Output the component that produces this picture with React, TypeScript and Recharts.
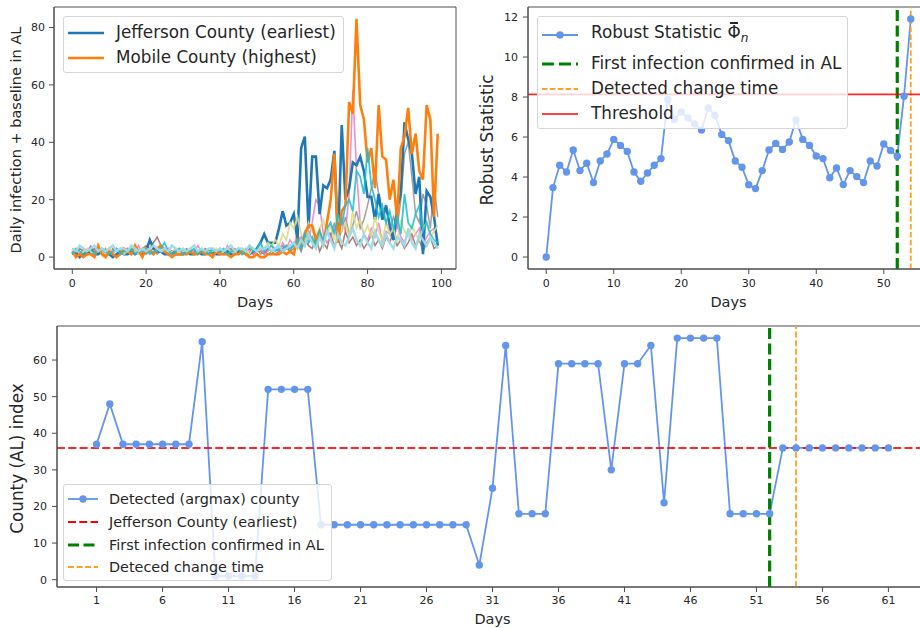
import React from 'react';
import { LineChart, Line, XAxis, YAxis, ReferenceLine, ReferenceArea, Label } from 'recharts';

const FONT = '"DejaVu Sans", "Liberation Sans", sans-serif';
const INK = '#262626';
const SPINE = '#4d4d4d';

// ---------------- Top-left: daily infections per county ----------------
const jeffersonDaily = [
  1, 2, 0, 1, 1, 3, 1, 1, 2, 1,
  1, 0, 1, 2, 1, 1, 2, 1, 2, 1,
  2, 6, 3, 2, 2, 1, 1, 2, 1, 1,
  1, 2, 1, 1, 2, 1, 1, 2, 2, 1,
  1, 2, 2, 1, 1, 2, 2, 1, 1, 2,
  3, 5, 8, 5, 5, 5, 10, 16, 11, 12,
  15, 6, 38, 42, 10, 35, 35, 15, 25, 24,
  27, 37, 5, 46, 20, 24, 33, 32, 35, 30,
  21, 21, 13, 22, 13, 18, 11, 6, 17, 22,
  47, 41, 36, 22, 28, 1, 23, 21, 14, 4,
];
const mobileDaily = [
  2, 0, 1, 0, 1, 1, 0, 4, 1, 0,
  2, 1, 0, 1, 3, 2, 1, 4, 2, 0,
  3, 2, 1, 3, 4, 2, 1, 0, 1, 1,
  1, 1, 2, 1, 1, 2, 1, 1, 0, 2,
  1, 1, 1, 0, 1, 1, 2, 1, 0, 0,
  1, 0, 0, 1, 1, 1, 1, 2, 1, 2,
  1, 6, 4, 8, 11, 11, 6, 9, 4, 12,
  20, 36, 5, 16, 18, 54, 50, 83, 53, 48,
  33, 38, 24, 53, 35, 34, 20, 27, 13, 38,
  42, 52, 36, 43, 30, 27, 53, 48, 14, 43,
];
const otherBrown = [
  2, 1, 3, 2, 1, 2, 3, 1, 2, 2, 1, 3, 2, 1, 2, 2, 3, 1, 2, 3,
  4, 3, 5, 7, 4, 3, 2, 1, 2, 1, 2, 3, 1, 2, 2, 1, 3, 2, 1, 2,
  2, 1, 2, 3, 1, 2, 1, 2, 3, 1, 2, 2, 1, 3, 2, 1, 2, 3, 4, 2,
  3, 5, 2, 6, 4, 3, 7, 2, 5, 3, 8, 4, 6, 3, 9, 5, 7, 4, 6, 3,
  5, 8, 4, 6, 3, 7, 5, 9, 4, 6, 3, 5, 8, 4, 6, 2, 5, 7, 3, 4,
];
const otherGray = [
  1, 2, 1, 3, 2, 1, 2, 2, 1, 3, 1, 2, 2, 1, 2, 3, 1, 2, 1, 2,
  1, 2, 3, 1, 2, 1, 2, 1, 3, 2, 1, 2, 1, 2, 1, 3, 2, 1, 2, 1,
  2, 1, 2, 1, 3, 2, 1, 2, 1, 2, 3, 1, 2, 1, 2, 3, 2, 4, 3, 2,
  5, 3, 7, 4, 9, 6, 4, 8, 5, 10, 7, 12, 6, 9, 14, 8, 11, 16, 10, 13,
  18, 24, 30, 22, 16, 12, 9, 14, 10, 20, 36, 40, 28, 15, 12, 22, 18, 10, 25, 14,
];
const otherPink = [
  3, 2, 1, 3, 2, 4, 2, 1, 3, 2, 2, 1, 3, 2, 1, 3, 2, 2, 4, 1,
  2, 3, 1, 2, 4, 2, 3, 1, 2, 3, 2, 1, 3, 2, 4, 2, 1, 2, 3, 2,
  3, 1, 4, 2, 2, 3, 1, 3, 2, 1, 2, 3, 1, 2, 4, 3, 2, 5, 3, 6,
  4, 8, 5, 9, 6, 12, 20, 18, 8, 5, 7, 10, 6, 14, 9, 22, 58, 30, 12, 8,
  6, 10, 7, 12, 5, 9, 8, 6, 11, 7, 5, 9, 6, 8, 10, 4, 7, 9, 10, 6,
];
const otherOlive = [
  2, 3, 1, 2, 3, 2, 1, 3, 2, 1, 3, 2, 2, 3, 1, 2, 3, 2, 1, 2,
  3, 2, 1, 3, 2, 2, 1, 2, 3, 1, 2, 2, 3, 1, 2, 3, 1, 2, 2, 3,
  1, 2, 3, 2, 1, 3, 2, 2, 1, 3, 2, 4, 3, 5, 4, 6, 4, 8, 6, 12,
  10, 14, 8, 6, 12, 9, 7, 10, 13, 8, 11, 6, 14, 9, 12, 7, 16, 10, 13, 8,
  11, 7, 14, 9, 6, 12, 8, 10, 5, 13, 9, 7, 11, 8, 6, 10, 12, 7, 9, 11,
];
const otherCyan = [
  1, 3, 2, 1, 2, 3, 1, 2, 3, 2, 1, 2, 3, 1, 2, 2, 3, 1, 2, 2,
  3, 1, 2, 2, 3, 5, 2, 1, 2, 3, 1, 2, 2, 3, 1, 2, 2, 1, 3, 2,
  2, 3, 1, 2, 2, 3, 1, 2, 4, 2, 3, 5, 2, 3, 4, 2, 3, 2, 4, 3,
  4, 6, 3, 8, 5, 7, 4, 9, 6, 10, 12, 8, 15, 11, 18, 20, 16, 30, 28, 22,
  38, 25, 20, 14, 18, 12, 16, 10, 14, 8, 22, 12, 10, 15, 18, 9, 12, 8, 6, 5,
];
const otherLightCyan = [
  3, 2, 4, 3, 2, 3, 4, 2, 3, 2, 3, 4, 2, 3, 3, 2, 4, 3, 2, 3,
  2, 3, 4, 3, 2, 3, 2, 4, 3, 2, 3, 2, 3, 4, 2, 3, 2, 3, 3, 2,
  3, 2, 3, 4, 2, 3, 3, 2, 4, 3, 2, 3, 3, 4, 2, 3, 4, 2, 3, 4,
  5, 3, 6, 4, 8, 5, 3, 7, 4, 9, 6, 3, 8, 5, 4, 7, 10, 6, 4, 8,
  5, 3, 9, 6, 4, 8, 5, 3, 7, 6, 4, 10, 5, 3, 8, 6, 4, 7, 5, 3,
];
const infectionTicksX = [0, 20, 40, 60, 80, 100];
const infectionTicksY = [0, 20, 40, 60, 80];
const infectionLegend = ['Jefferson County (earliest)', 'Mobile County (highest)'];

// ---------------- Top-right: robust statistic ----------------
const robustStat = [
  0, 3.47, 4.59, 4.25, 5.35, 4.32, 4.69, 3.72, 4.8, 5.15,
  5.88, 5.58, 5.28, 4.25, 3.79, 4.2, 4.59, 4.92, 7.88, 6.88,
  7.25, 6.95, 6.65, 6.35, 7.45, 7.08, 6.13, 5.82, 4.8, 4.49,
  3.61, 3.42, 4.32, 5.35, 5.68, 5.38, 5.75, 6.85, 5.88, 5.58,
  5.05, 4.92, 3.96, 4.45, 3.62, 4.32, 4.02, 3.72, 4.8, 4.55,
  5.65, 5.33, 5.04, 8.04, 11.9,
];
const threshold = 8.13;
const firstInfectionDay = 52;
const detectedChangeDay = 54;
const robustTicksX = [0, 10, 20, 30, 40, 50];
const robustTicksY = [0, 2, 4, 6, 8, 10, 12];
const robustLegend = ['Robust Statistic', 'First infection confirmed in AL', 'Detected change time', 'Threshold'];

// ---------------- Bottom: detected county index ----------------
const detectedCounty = [
  37, 48, 37, 37, 37, 37, 37, 37, 65, 1,
  1, 1, 1, 52, 52, 52, 52, 15, 15, 15,
  15, 15, 15, 15, 15, 15, 15, 15, 15, 4,
  25, 64, 18, 18, 18, 59, 59, 59, 59, 30,
  59, 59, 64, 21, 66, 66, 66, 66, 18, 18,
  18, 18, 36, 36, 36, 36, 36, 36, 36, 36,
  36,
];
const jeffersonIndex = 36;
const countyTicksX = [1, 6, 11, 16, 21, 26, 31, 36, 41, 46, 51, 56, 61];
const countyTicksY = [0, 10, 20, 30, 40, 50, 60];
const countyLegend = ['Detected (argmax) county', 'Jefferson County (earliest)', 'First infection confirmed in AL', 'Deteced change time'];

// ---------------- styles ----------------
const C = {
  jefferson: '#1f77b4',
  mobile: '#ff7f0e',
  blue: '#6495ed',
  green: '#008000',
  orange: '#ffa024',
  red: '#ff0000',
};
const others = [
  { key: 'brown', values: otherBrown, color: '#8c564b', w: 1.5, o: 0.75 },
  { key: 'gray', values: otherGray, color: '#7f7f7f', w: 1.5, o: 0.75 },
  { key: 'pink', values: otherPink, color: '#e377c2', w: 1.6, o: 0.8 },
];
const othersTop = [
  { key: 'olive', values: otherOlive, color: '#dbdb8d', w: 1.8, o: 0.9 },
  { key: 'cyan', values: otherCyan, color: '#17becf', w: 1.8, o: 0.85 },
  { key: 'lcyan', values: otherLightCyan, color: '#9edae5', w: 2.4, o: 0.95 },
];

const infectionRows = jeffersonDaily.map((v, i) => {
  const row: any = { day: i, jefferson: v, mobile: mobileDaily[i] };
  [...others, ...othersTop].forEach((s) => { row[s.key] = s.values[i]; });
  return row;
});
const robustRows = robustStat.map((v, i) => ({ day: i, phi: v }));
const countyRows = detectedCounty.map((v, i) => ({ day: i + 1, county: v }));

const tickStyle = { fill: INK, fontSize: 11, fontFamily: FONT };

const xLabel = (text: string, off: number, size: number) => (props: any) => {
  const vb = props.viewBox || {};
  return (
    <text x={vb.x + vb.width / 2} y={vb.y + off} textAnchor="middle" fill={INK}
      style={{ fontSize: size, fontFamily: FONT }}>{text}</text>
  );
};
const yLabel = (text: string, off: number, size: number) => (props: any) => {
  const vb = props.viewBox || {};
  const x = vb.x + off;
  const y = vb.y + vb.height / 2 + 2;
  return (
    <text x={x} y={y} transform={`rotate(-90 ${x} ${y})`} textAnchor="middle" dominantBaseline="central"
      fill={INK} style={{ fontSize: size, fontFamily: FONT }}>{text}</text>
  );
};

const Sample = ({ w, color, sw, dash, marker }: any) => (
  <svg width={w} height={14} style={{ display: 'block', flex: 'none' }}>
    <line x1={0} x2={w} y1={7} y2={7} stroke={color} strokeWidth={sw} strokeDasharray={dash} />
    {marker ? <circle cx={w / 2} cy={7} r={3.7} fill={color} /> : null}
  </svg>
);

const LegendBox = ({ left, top, width, height, fontSize, padTop, rows, sampleLeft, gap }: any) => (
  <div style={{
    position: 'absolute', left, top, width, height, boxSizing: 'border-box',
    border: '1px solid #d6d6d6', borderRadius: 3, background: 'rgba(255,255,255,0.8)',
    paddingTop: padTop, fontFamily: FONT, fontSize, color: INK,
  }}>
    {rows.map((r: any, i: number) => (
      <div key={i} style={{ height: r.h, display: 'flex', alignItems: 'center', whiteSpace: 'nowrap' }}>
        <div style={{ marginLeft: sampleLeft }}>{r.sample}</div>
        <div style={{ marginLeft: gap, lineHeight: 1 }}>{r.label}</div>
      </div>
    ))}
  </div>
);

const PhiBar = () => (
  <span style={{ position: 'relative', display: 'inline-block' }}>
    Φ
    <span style={{ position: 'absolute', left: '0.18em', right: '0.18em', top: '-0.12em', height: 1.3, background: INK }} />
  </span>
);

const frame = (xd: number[], yd: number[]) => (
  <ReferenceArea x1={xd[0]} x2={xd[1]} y1={yd[0]} y2={yd[1]} fill="none" fillOpacity={0}
    stroke={SPINE} strokeWidth={1} ifOverflow="visible" />
);

export default function App() {
  const infX = [-4.95, 103.95];
  const infY = [-4.15, 87.15];
  const robX = [-2.7, 56.7];
  const robY = [-0.6, 12.5];
  const cntX = [-2, 64];
  const cntY = [-2, 69.3];

  return (
    <div style={{ position: 'absolute', left: 0, top: 0, width: 920, height: 628, overflow: 'hidden', background: '#fff' }}>
      {/* Top-left */}
      <div style={{ position: 'absolute', left: 0, top: 0 }}>
        <LineChart width={460} height={310} data={infectionRows} margin={{ top: 7, right: 4, bottom: 0, left: 0 }}>
          <XAxis dataKey="day" type="number" domain={infX} allowDataOverflow ticks={infectionTicksX} interval={0}
            height={41} tick={tickStyle} tickSize={5} tickMargin={5} tickLine={{ stroke: SPINE }} axisLine={{ stroke: SPINE }}>
            <Label content={xLabel('Days', 38, 14.5)} />
          </XAxis>
          <YAxis type="number" domain={infY} allowDataOverflow ticks={infectionTicksY} interval={0}
            width={54} tick={tickStyle} tickSize={5} tickMargin={4} tickLine={{ stroke: SPINE }} axisLine={{ stroke: SPINE }}>
            <Label content={yLabel('Daily infection + baseline in AL', 16, 14.5)} />
          </YAxis>
          {frame(infX, infY)}
          {others.map((s) => (
            <Line key={s.key} dataKey={s.key} stroke={s.color} strokeWidth={s.w} strokeOpacity={s.o}
              dot={false} activeDot={false} isAnimationActive={false} />
          ))}
          <Line dataKey="jefferson" stroke={C.jefferson} strokeWidth={2.6} dot={false} activeDot={false} isAnimationActive={false} />
          {othersTop.slice(0, 1).map((s) => (
            <Line key={s.key} dataKey={s.key} stroke={s.color} strokeWidth={s.w} strokeOpacity={s.o}
              dot={false} activeDot={false} isAnimationActive={false} />
          ))}
          <Line dataKey="mobile" stroke={C.mobile} strokeWidth={2.6} dot={false} activeDot={false} isAnimationActive={false} />
          {othersTop.slice(1).map((s) => (
            <Line key={s.key} dataKey={s.key} stroke={s.color} strokeWidth={s.w} strokeOpacity={s.o}
              dot={false} activeDot={false} isAnimationActive={false} />
          ))}
        </LineChart>
        <LegendBox left={63} top={16} width={281} height={57} fontSize={16.8} padTop={3} sampleLeft={4} gap={12}
          rows={[
            { h: 25, label: infectionLegend[0], sample: <Sample w={36} color={C.jefferson} sw={2.6} /> },
            { h: 25, label: infectionLegend[1], sample: <Sample w={36} color={C.mobile} sw={2.6} /> },
          ]} />
      </div>

      {/* Top-right */}
      <div style={{ position: 'absolute', left: 460, top: 0 }}>
        <LineChart width={470} height={310} data={robustRows} margin={{ top: 7, right: 1, bottom: 0, left: 0 }}>
          <XAxis dataKey="day" type="number" domain={robX} allowDataOverflow ticks={robustTicksX} interval={0}
            height={41} tick={tickStyle} tickSize={5} tickMargin={5} tickLine={{ stroke: SPINE }} axisLine={{ stroke: SPINE }}>
            <Label content={xLabel('Days', 38, 14.5)} />
          </XAxis>
          <YAxis type="number" domain={robY} allowDataOverflow ticks={robustTicksY} interval={0}
            width={68} tick={tickStyle} tickSize={5} tickMargin={5} tickLine={{ stroke: SPINE }} axisLine={{ stroke: SPINE }}>
            <Label content={yLabel('Robust Statistic', 27, 16.8)} />
          </YAxis>
          {frame(robX, robY)}
          <Line dataKey="phi" stroke={C.blue} strokeWidth={1.8}
            dot={{ r: 3.7, fill: C.blue, stroke: C.blue, strokeWidth: 0 }} activeDot={false} isAnimationActive={false} />
          <ReferenceLine x={firstInfectionDay} stroke={C.green} strokeWidth={3.2} strokeDasharray="11 4.5" ifOverflow="visible" />
          <ReferenceLine x={detectedChangeDay} stroke={C.orange} strokeWidth={1.8} strokeDasharray="5.5 2.4" ifOverflow="visible" />
          <ReferenceLine y={threshold} stroke={C.red} strokeWidth={1.7} strokeOpacity={0.85} ifOverflow="visible" />
        </LineChart>
        <LegendBox left={77} top={16} width={311} height={113} fontSize={16.8} padTop={1} sampleLeft={4} gap={13}
          rows={[
            { h: 33, label: <span>{robustLegend[0]} <PhiBar /><sub style={{ fontStyle: 'italic', fontSize: '0.72em', verticalAlign: '-0.35em' }}>n</sub></span>,
              sample: <Sample w={36} color={C.blue} sw={1.8} marker /> },
            { h: 25, label: robustLegend[1], sample: <Sample w={36} color={C.green} sw={3.2} dash="12 5" /> },
            { h: 25, label: robustLegend[2], sample: <Sample w={36} color={C.orange} sw={1.8} dash="5.5 2.4" /> },
            { h: 25, label: robustLegend[3], sample: <Sample w={36} color={C.red} sw={1.7} /> },
          ]} />
      </div>

      {/* Bottom */}
      <div style={{ position: 'absolute', left: 0, top: 315 }}>
        <LineChart width={928} height={313} data={countyRows} margin={{ top: 11, right: 0, bottom: 0, left: 0 }}>
          <XAxis dataKey="day" type="number" domain={cntX} allowDataOverflow ticks={countyTicksX} interval={0}
            height={41} tick={tickStyle} tickSize={5} tickMargin={4} tickLine={{ stroke: SPINE }} axisLine={{ stroke: SPINE }}>
            <Label content={xLabel('Days', 37, 14.5)} />
          </XAxis>
          <YAxis type="number" domain={cntY} allowDataOverflow ticks={countyTicksY} interval={0}
            width={57} tick={tickStyle} tickSize={5} tickMargin={5} tickLine={{ stroke: SPINE }} axisLine={{ stroke: SPINE }}>
            <Label content={yLabel('County (AL) index', 17, 16.8)} />
          </YAxis>
          {frame(cntX, cntY)}
          <Line dataKey="county" stroke={C.blue} strokeWidth={1.8}
            dot={{ r: 3.7, fill: C.blue, stroke: C.blue, strokeWidth: 0 }} activeDot={false} isAnimationActive={false} />
          <ReferenceLine y={jeffersonIndex} stroke={C.red} strokeOpacity={0.85} strokeWidth={2} strokeDasharray="8 3.3" ifOverflow="visible" />
          <ReferenceLine x={firstInfectionDay} stroke={C.green} strokeWidth={3.2} strokeDasharray="11 4.5" ifOverflow="visible" />
          <ReferenceLine x={detectedChangeDay} stroke={C.orange} strokeWidth={1.8} strokeDasharray="6 2.6" ifOverflow="visible" />
        </LineChart>
        <LegendBox left={63} top={169} width={269} height={97} fontSize={14.4} padTop={3} sampleLeft={4} gap={11}
          rows={[
            { h: 22.7, label: countyLegend[0], sample: <Sample w={30} color={C.blue} sw={1.8} marker /> },
            { h: 22.7, label: countyLegend[1], sample: <Sample w={30} color={C.red} sw={2} dash="8 3.3" /> },
            { h: 22.7, label: countyLegend[2], sample: <Sample w={30} color={C.green} sw={3.2} dash="11 4.5" /> },
            { h: 22.7, label: countyLegend[3], sample: <Sample w={30} color={C.orange} sw={1.8} dash="6 2.6" /> },
          ]} />
      </div>
    </div>
  );
}
